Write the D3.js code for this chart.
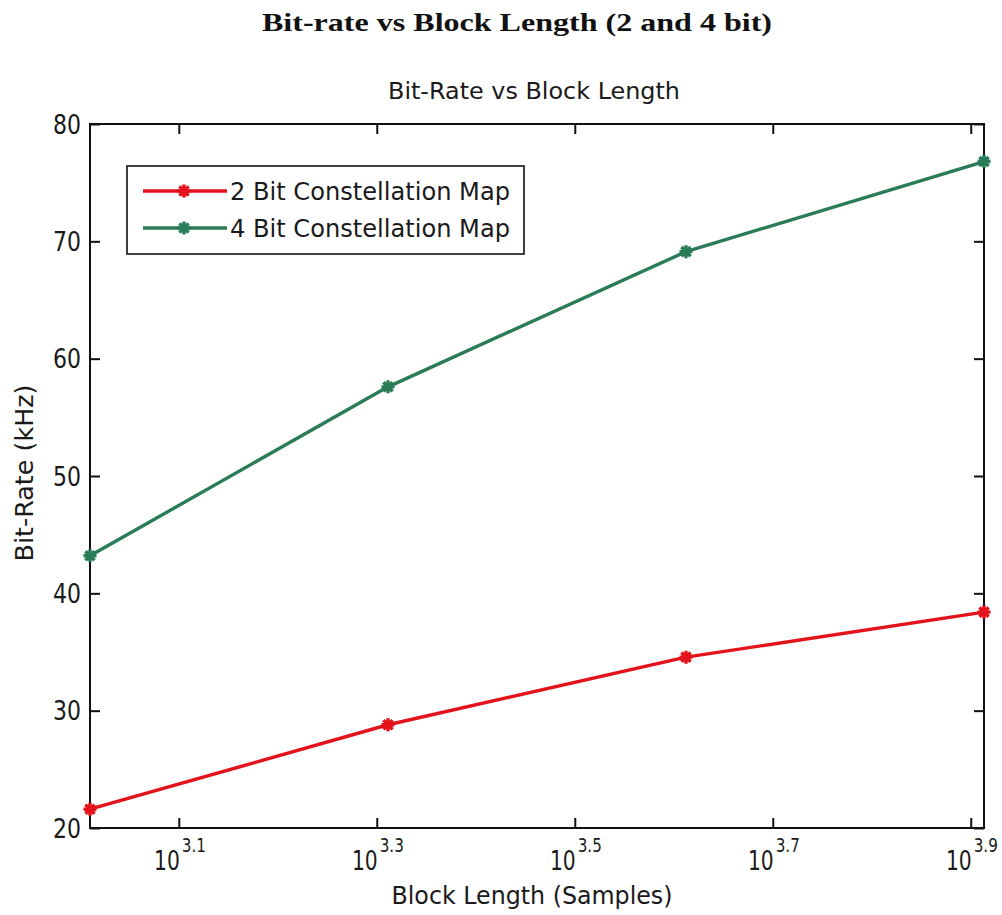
<!DOCTYPE html>
<html>
<head>
<meta charset="utf-8">
<script src="https://cdn.jsdelivr.net/npm/d3@7"></script>
<style>
  html, body { margin: 0; padding: 0; background: #fff; }
  svg { display: block; }
  .sans { font-family: "DejaVu Sans", "Liberation Sans", sans-serif; fill: #1a1a1a; }
</style>
</head>
<body>
<svg id="chart" width="1002" height="915"></svg>
<script>
// Block lengths (samples) and measured bit-rates (kHz)
const blockLengths = [1024, 2048, 4096, 8192];
const rate2Bit = [21.6, 28.8, 34.56, 38.4];
const rate4Bit = [43.2, 57.6, 69.12, 76.8];
const seriesNames = ["2 Bit Constellation Map", "4 Bit Constellation Map"];
const seriesColors = ["#e3121b", "#2a7b58"];
const xTickExponents = [3.1, 3.3, 3.5, 3.7, 3.9];
const yTickValues = [20, 30, 40, 50, 60, 70, 80];

const svg = d3.select("#chart");
const plot = { left: 90, right: 984, top: 124, bottom: 828 };
const tickLen = 10;

const x = d3.scaleLog().domain([1024, 8192]).range([plot.left, plot.right]);
const y = d3.scaleLinear().domain([20, 80]).range([plot.bottom, plot.top]);

// Figure heading
svg.append("text")
  .attr("x", 517).attr("y", 31)
  .attr("text-anchor", "middle")
  .attr("font-family", "'Liberation Serif', 'DejaVu Serif', serif")
  .attr("font-weight", "bold")
  .attr("font-size", 26)
  .attr("fill", "#111")
  .attr("textLength", 510).attr("lengthAdjust", "spacingAndGlyphs")
  .text("Bit-rate vs Block Length (2 and 4 bit)");

// Axes title
svg.append("text").attr("class", "sans")
  .attr("x", 534).attr("y", 99)
  .attr("text-anchor", "middle").attr("font-size", 23.5)
  .attr("textLength", 292).attr("lengthAdjust", "spacingAndGlyphs")
  .text("Bit-Rate vs Block Length");

// Plot frame
svg.append("rect")
  .attr("x", plot.left).attr("y", plot.top)
  .attr("width", plot.right - plot.left).attr("height", plot.bottom - plot.top)
  .attr("fill", "#fff").attr("stroke", "#111").attr("stroke-width", 2);

// Inward ticks on all four sides via d3 axes
const xTickVals = xTickExponents.map(e => Math.pow(10, e));
const xBottom = d3.axisBottom(x).tickValues(xTickVals).tickSizeInner(-tickLen).tickSizeOuter(0).tickFormat("");
const xTop = d3.axisTop(x).tickValues(xTickVals).tickSizeInner(-tickLen).tickSizeOuter(0).tickFormat("");
const yLeft = d3.axisLeft(y).tickValues(yTickValues).tickSizeInner(-tickLen).tickSizeOuter(0).tickFormat("");
const yRight = d3.axisRight(y).tickValues(yTickValues).tickSizeInner(-tickLen).tickSizeOuter(0).tickFormat("");

function styleAxis(g) {
  g.select(".domain").remove();
  g.selectAll(".tick line").attr("stroke", "#111").attr("stroke-width", 2);
}
svg.append("g").attr("transform", `translate(0,${plot.bottom})`).call(xBottom).call(styleAxis);
svg.append("g").attr("transform", `translate(0,${plot.top})`).call(xTop).call(styleAxis);
svg.append("g").attr("transform", `translate(${plot.left},0)`).call(yLeft).call(styleAxis);
svg.append("g").attr("transform", `translate(${plot.right},0)`).call(yRight).call(styleAxis);

// X tick labels: "10" with a superscript exponent, one text element each
const xl = svg.append("g");
xTickExponents.forEach(e => {
  const px = x(Math.pow(10, e));
  const t = xl.append("text").attr("class", "sans")
    .attr("transform", `translate(${px + 1},870) scale(0.78,1)`)
    .attr("x", -33.1).attr("y", 0)
    .attr("font-size", 26);
  t.append("tspan").text("10");
  t.append("tspan").attr("dx", 2.5).attr("dy", -18).attr("font-size", 19.5).text(String(e));
});

// Y tick labels
svg.append("g").selectAll("text").data(yTickValues).join("text")
  .attr("class", "sans")
  .attr("x", 81).attr("y", d => y(d))
  .attr("dy", "0.37em")
  .attr("text-anchor", "end").attr("font-size", 26)
  .attr("textLength", 28).attr("lengthAdjust", "spacingAndGlyphs")
  .text(d => d);

// Axis labels
svg.append("text").attr("class", "sans")
  .attr("x", 532).attr("y", 904)
  .attr("text-anchor", "middle").attr("font-size", 24)
  .attr("textLength", 281).attr("lengthAdjust", "spacingAndGlyphs")
  .text("Block Length (Samples)");

svg.append("text").attr("class", "sans")
  .attr("transform", "translate(33,473) rotate(-90)")
  .attr("text-anchor", "middle").attr("font-size", 24)
  .attr("textLength", 177).attr("lengthAdjust", "spacingAndGlyphs")
  .text("Bit-Rate (kHz)");

// Asterisk marker path
function asterisk(r) {
  const d = r * Math.SQRT1_2;
  return `M${-r},0L${r},0M0,${-r}L0,${r}M${-d},${-d}L${d},${d}M${-d},${d}L${d},${-d}`;
}

const series = [rate2Bit, rate4Bit];
const line = d3.line().x((d, i) => x(blockLengths[i])).y(d => y(d));

series.forEach((vals, k) => {
  const g = svg.append("g");
  g.append("path").datum(vals)
    .attr("d", line)
    .attr("fill", "none")
    .attr("stroke", seriesColors[k]).attr("stroke-width", 3.4)
    .attr("stroke-linejoin", "round");
  g.selectAll("path.mk").data(vals).join("path")
    .attr("class", "mk")
    .attr("transform", (d, i) => `translate(${x(blockLengths[i])},${y(d)})`)
    .attr("d", asterisk(6.5))
    .attr("stroke", seriesColors[k]).attr("stroke-width", 3.4)
    .attr("fill", "none");
});

// Legend
const legend = svg.append("g");
legend.append("rect")
  .attr("x", 127).attr("y", 166).attr("width", 397).attr("height", 88)
  .attr("fill", "#fff").attr("stroke", "#111").attr("stroke-width", 1.6);
seriesNames.forEach((name, k) => {
  const ly = 191 + k * 37;
  legend.append("line")
    .attr("x1", 143).attr("x2", 227).attr("y1", ly).attr("y2", ly)
    .attr("stroke", seriesColors[k]).attr("stroke-width", 3.4);
  legend.append("path")
    .attr("transform", `translate(184,${ly})`)
    .attr("d", asterisk(6.5))
    .attr("stroke", seriesColors[k]).attr("stroke-width", 3.4).attr("fill", "none");
  legend.append("text").attr("class", "sans")
    .attr("x", 230).attr("y", ly).attr("dy", "0.37em")
    .attr("font-size", 24)
    .attr("textLength", 280).attr("lengthAdjust", "spacingAndGlyphs")
    .text(name);
});
</script>
</body>
</html>
